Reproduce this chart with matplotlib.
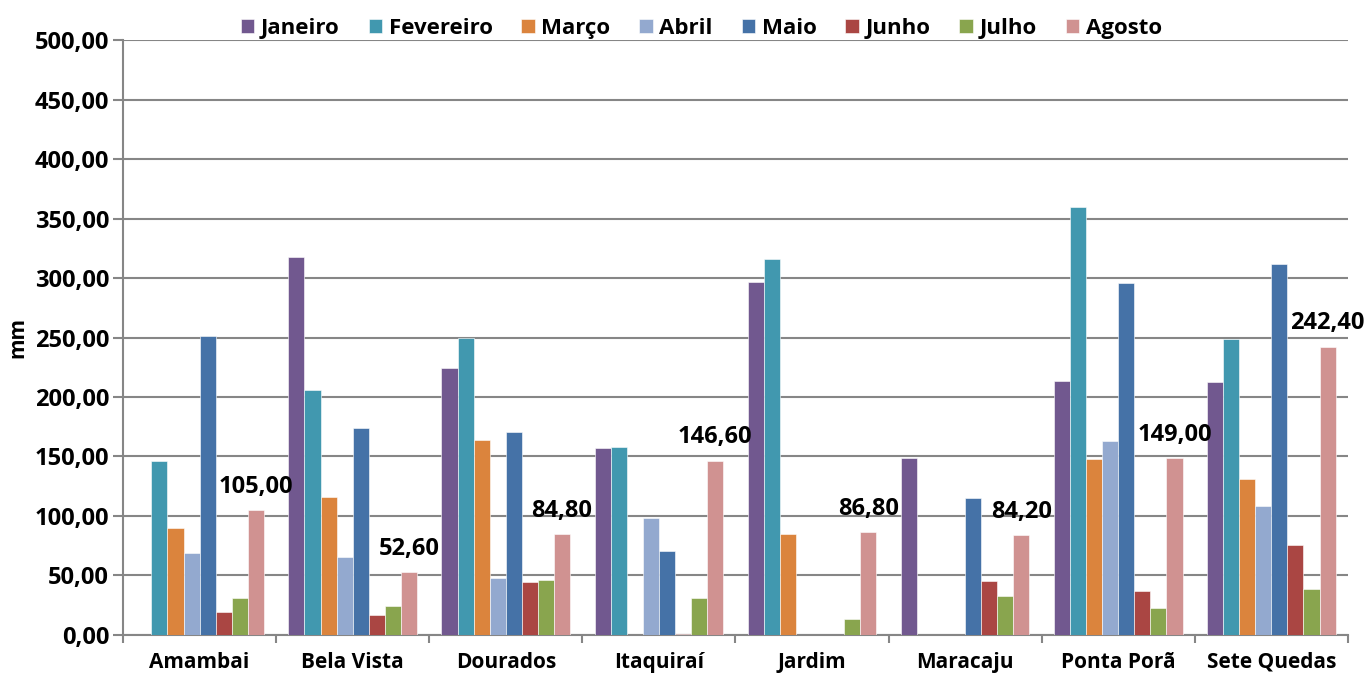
import matplotlib
matplotlib.use("Agg")
import matplotlib.pyplot as plt
import numpy as np
from matplotlib.ticker import FuncFormatter, MultipleLocator, FixedLocator

cities = ["Amambai", "Bela Vista", "Dourados", "Itaquiraí", "Jardim",
          "Maracaju", "Ponta Porã", "Sete Quedas"]
months = ["Janeiro", "Fevereiro", "Março", "Abril", "Maio", "Junho", "Julho", "Agosto"]

janeiro   = [0.0, 318.0, 224.0, 157.0, 296.5, 148.5, 213.7, 212.3]
fevereiro = [146.0, 206.0, 250.0, 158.0, 316.0, 0.0, 359.4, 248.7]
marco     = [90.0, 115.7, 164.0, 0.0, 84.6, 0.0, 148.0, 131.0]
abril     = [69.0, 65.8, 47.6, 98.6, 0.0, 0.0, 163.0, 108.7]
maio      = [251.0, 173.7, 171.0, 70.3, 0.0, 115.0, 295.8, 311.8]
junho     = [19.6, 17.0, 44.3, 0.5, 0.0, 45.7, 36.7, 75.6]
julho     = [31.4, 24.0, 46.0, 31.4, 13.4, 33.0, 22.7, 38.7]
agosto    = [105.0, 52.6, 84.8, 146.6, 86.8, 84.2, 149.0, 242.4]

series = [janeiro, fevereiro, marco, abril, maio, junho, julho, agosto]
colors = ["#71588F", "#4198AF", "#DB843D", "#93A9CF", "#4572A7",
          "#AA4643", "#89A54E", "#D09291"]

FONT = "Open Sans"
plt.rcParams["font.family"] = [FONT, "DejaVu Sans"]
plt.rcParams["font.weight"] = "bold"

fig = plt.figure(figsize=(13.67, 6.75), dpi=100)
ax = fig.add_axes([0.09, 0.0593, 0.896, 0.8814])

n = len(series)
bw = 0.105
x = np.arange(len(cities))
for i, (vals, c) in enumerate(zip(series, colors)):
    pos = x + (i - (n - 1) / 2) * bw
    ax.bar(pos, vals, width=bw, color=c, label=months[i], zorder=3,
           edgecolor="white", linewidth=0.4)
    if i == n - 1:
        for p, v in zip(pos, vals):
            ax.annotate(f"{v:.2f}".replace(".", ","), (p, v), xytext=(0, 8),
                        textcoords="offset points", ha="center", va="bottom",
                        fontsize=17, fontweight="bold", color="black")

ax.set_xlim(-0.5, len(cities) - 0.5)
ax.set_ylim(0, 500)
ax.yaxis.set_major_locator(MultipleLocator(50))
ax.yaxis.set_major_formatter(FuncFormatter(lambda v, p: f"{v:.2f}".replace(".", ",")))
ax.set_xticks(x)
ax.set_xticklabels(cities, fontsize=15, fontweight="bold")
ax.xaxis.set_minor_locator(FixedLocator(np.arange(-0.5, len(cities), 1.0)))
ax.tick_params(axis="x", which="major", length=0, pad=12)
ax.tick_params(axis="x", which="minor", length=6, color="#868686", width=1.5)
ax.tick_params(axis="y", length=7, color="#868686", width=1.5, labelsize=17, pad=3)
for lab in ax.get_yticklabels():
    lab.set_fontweight("bold")

ax.grid(axis="y", color="#868686", linewidth=1.5, zorder=0)
ax.set_axisbelow(True)
for s in ["top", "right"]:
    ax.spines[s].set_visible(False)
for s in ["left", "bottom"]:
    ax.spines[s].set_color("#868686")
    ax.spines[s].set_linewidth(1.5)

ax.set_ylabel("mm", fontsize=15, fontweight="bold")
ax.yaxis.set_label_coords(-0.077, 0.5)

fig.legend(loc="upper center", bbox_to_anchor=(0.513, 1.003), ncol=8, frameon=False,
           handlelength=0.6, handleheight=0.6, handletextpad=0.3, columnspacing=1.3,
           prop={"family": FONT, "weight": "bold", "size": 16})

fig.savefig("out.png", dpi=100)
